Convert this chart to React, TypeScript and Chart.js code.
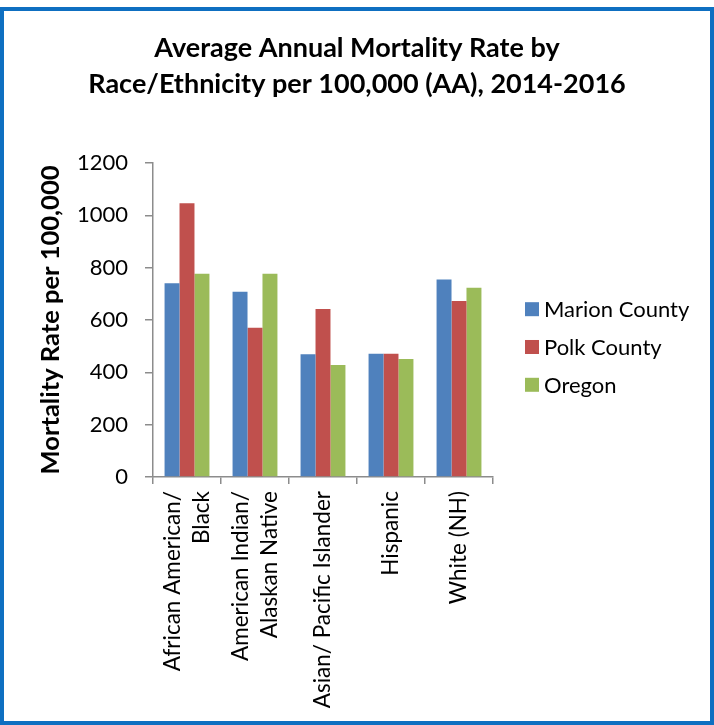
import React, { useEffect, useRef } from "react";
import { Chart, registerables } from "chart.js";

Chart.register(...registerables);

// Race / ethnicity groups (two-line labels are arrays)
const categories: (string | string[])[] = [
  ["African American/", "Black"],
  ["American Indian/", "Alaskan Native"],
  "Asian/ Pacific Islander",
  "Hispanic",
  "White (NH)",
];

// Age-adjusted average annual mortality rate per 100,000
const marionCounty = [740, 708, 469, 471, 755];
const polkCounty = [1046, 570, 642, 471, 673];
const oregon = [777, 777, 428, 451, 723];

const seriesNames = ["Marion County", "Polk County", "Oregon"];
const seriesColors = ["#4F81BD", "#C0504D", "#9BBB59"];

const yTicks = [0, 200, 400, 600, 800, 1000, 1200];

const chartTitle = [
  "Average Annual Mortality Rate by",
  "Race/Ethnicity per 100,000 (AA), 2014-2016",
];
const yAxisTitle = "Mortality Rate per 100,000";

const FONT = "Lato, 'Open Sans', sans-serif";

// Multi-line rotated tick labels are drawn starting at the tick; shift them so
// the lines sit centred on the category.
const centerTickLines = {
  id: "centerTickLines",
  beforeDraw(chart: any) {
    const scale = chart.scales.x;
    const items = scale.getLabelItems();
    items.forEach((item: any) => {
      if (item._centered) return;
      const n = Array.isArray(item.label) ? item.label.length : 1;
      item.textOffset -= ((n - 1) * item.font.lineHeight) / 2;
      item._centered = true;
    });
  },
};

// Legend drawn to the right of the plot area, centred a little below its middle
const sideLegend = {
  id: "sideLegend",
  afterDraw(chart: any) {
    const { ctx, chartArea } = chart;
    const datasets = chart.data.datasets;
    const box = 14;
    const spacing = 37.8;
    const left = chartArea.right + 32;
    const midY = (chartArea.top + chartArea.bottom) / 2 + 27;
    const firstY = midY - ((datasets.length - 1) * spacing) / 2;
    ctx.save();
    ctx.font = `22px ${FONT}`;
    ctx.textBaseline = "middle";
    ctx.textAlign = "left";
    datasets.forEach((ds: any, i: number) => {
      const cy = firstY + i * spacing;
      ctx.fillStyle = ds.backgroundColor;
      ctx.fillRect(left, cy - box / 2, box, box);
      ctx.fillStyle = "#000";
      ctx.fillText(ds.label, left + box + 5, cy + 1);
    });
    ctx.restore();
  },
};

export default function App() {
  const canvasRef = useRef<HTMLCanvasElement | null>(null);

  useEffect(() => {
    if (!canvasRef.current) return;
    const values = [marionCounty, polkCounty, oregon];
    const chart = new Chart(canvasRef.current, {
      type: "bar",
      data: {
        labels: categories,
        datasets: values.map((data, i) => ({
          label: seriesNames[i],
          data,
          backgroundColor: seriesColors[i],
          borderWidth: 0,
          categoryPercentage: 0.66,
          barPercentage: 1.0,
        })),
      },
      options: {
        responsive: false,
        animation: false,
        devicePixelRatio: 1,
        layout: { padding: 0 },
        plugins: {
          legend: { display: false },
          tooltip: { enabled: false },
          title: {
            display: true,
            text: chartTitle,
            color: "#000",
            font: { family: FONT, size: 27, weight: "bold", lineHeight: 1.333 },
            padding: { top: 30, bottom: 61 },
          },
        },
        scales: {
          x: {
            type: "category",
            grid: {
              offset: true,
              drawOnChartArea: false,
              drawTicks: true,
              tickLength: 7,
              color: "#8c8c8c",
              lineWidth: 1.5,
            },
            border: { display: true, color: "#8c8c8c", width: 1.5 },
            ticks: {
              autoSkip: false,
              minRotation: 90,
              maxRotation: 90,
              padding: 7,
              color: "#000",
              font: { family: FONT, size: 22.5, lineHeight: 1.29 },
            },
            afterFit: (s: any) => {
              s.height = 248;
            },
          },
          y: {
            min: 0,
            max: 1200,
            afterBuildTicks: (s: any) => {
              s.ticks = yTicks.map((v) => ({ value: v }));
            },
            grid: {
              drawOnChartArea: false,
              drawTicks: true,
              tickLength: 8,
              color: "#8c8c8c",
              lineWidth: 1.5,
            },
            border: { display: true, color: "#8c8c8c", width: 1.5 },
            ticks: {
              padding: 17,
              color: "#000",
              font: { family: FONT, size: 22 },
              callback: (v: any) => String(v),
            },
            title: {
              display: true,
              text: yAxisTitle,
              color: "#000",
              font: { family: FONT, size: 25.5, weight: "bold" },
              padding: { top: 35, bottom: 0 },
            },
            afterFit: (s: any) => {
              s.width = 153;
            },
          },
          // empty right-hand band that holds the legend
          legendBand: {
            type: "linear",
            position: "right",
            display: true,
            grid: { display: false, drawTicks: false },
            border: { display: false },
            ticks: { display: false },
            afterFit: (s: any) => {
              s.width = 221;
            },
          },
        },
      },
      plugins: [centerTickLines, sideLegend],
    });
    return () => chart.destroy();
  }, []);

  return (
    <div
      style={{
        position: "absolute",
        left: 0,
        top: 0,
        width: 714,
        height: 725,
        background: "#fff",
      }}
    >
      <canvas ref={canvasRef} width={714} height={725} style={{ display: "block" }} />
      <div
        style={{
          position: "absolute",
          left: 0,
          top: 7,
          width: 714,
          height: 718,
          boxSizing: "border-box",
          border: "4px solid #0E6FC1",
          pointerEvents: "none",
        }}
      />
    </div>
  );
}
